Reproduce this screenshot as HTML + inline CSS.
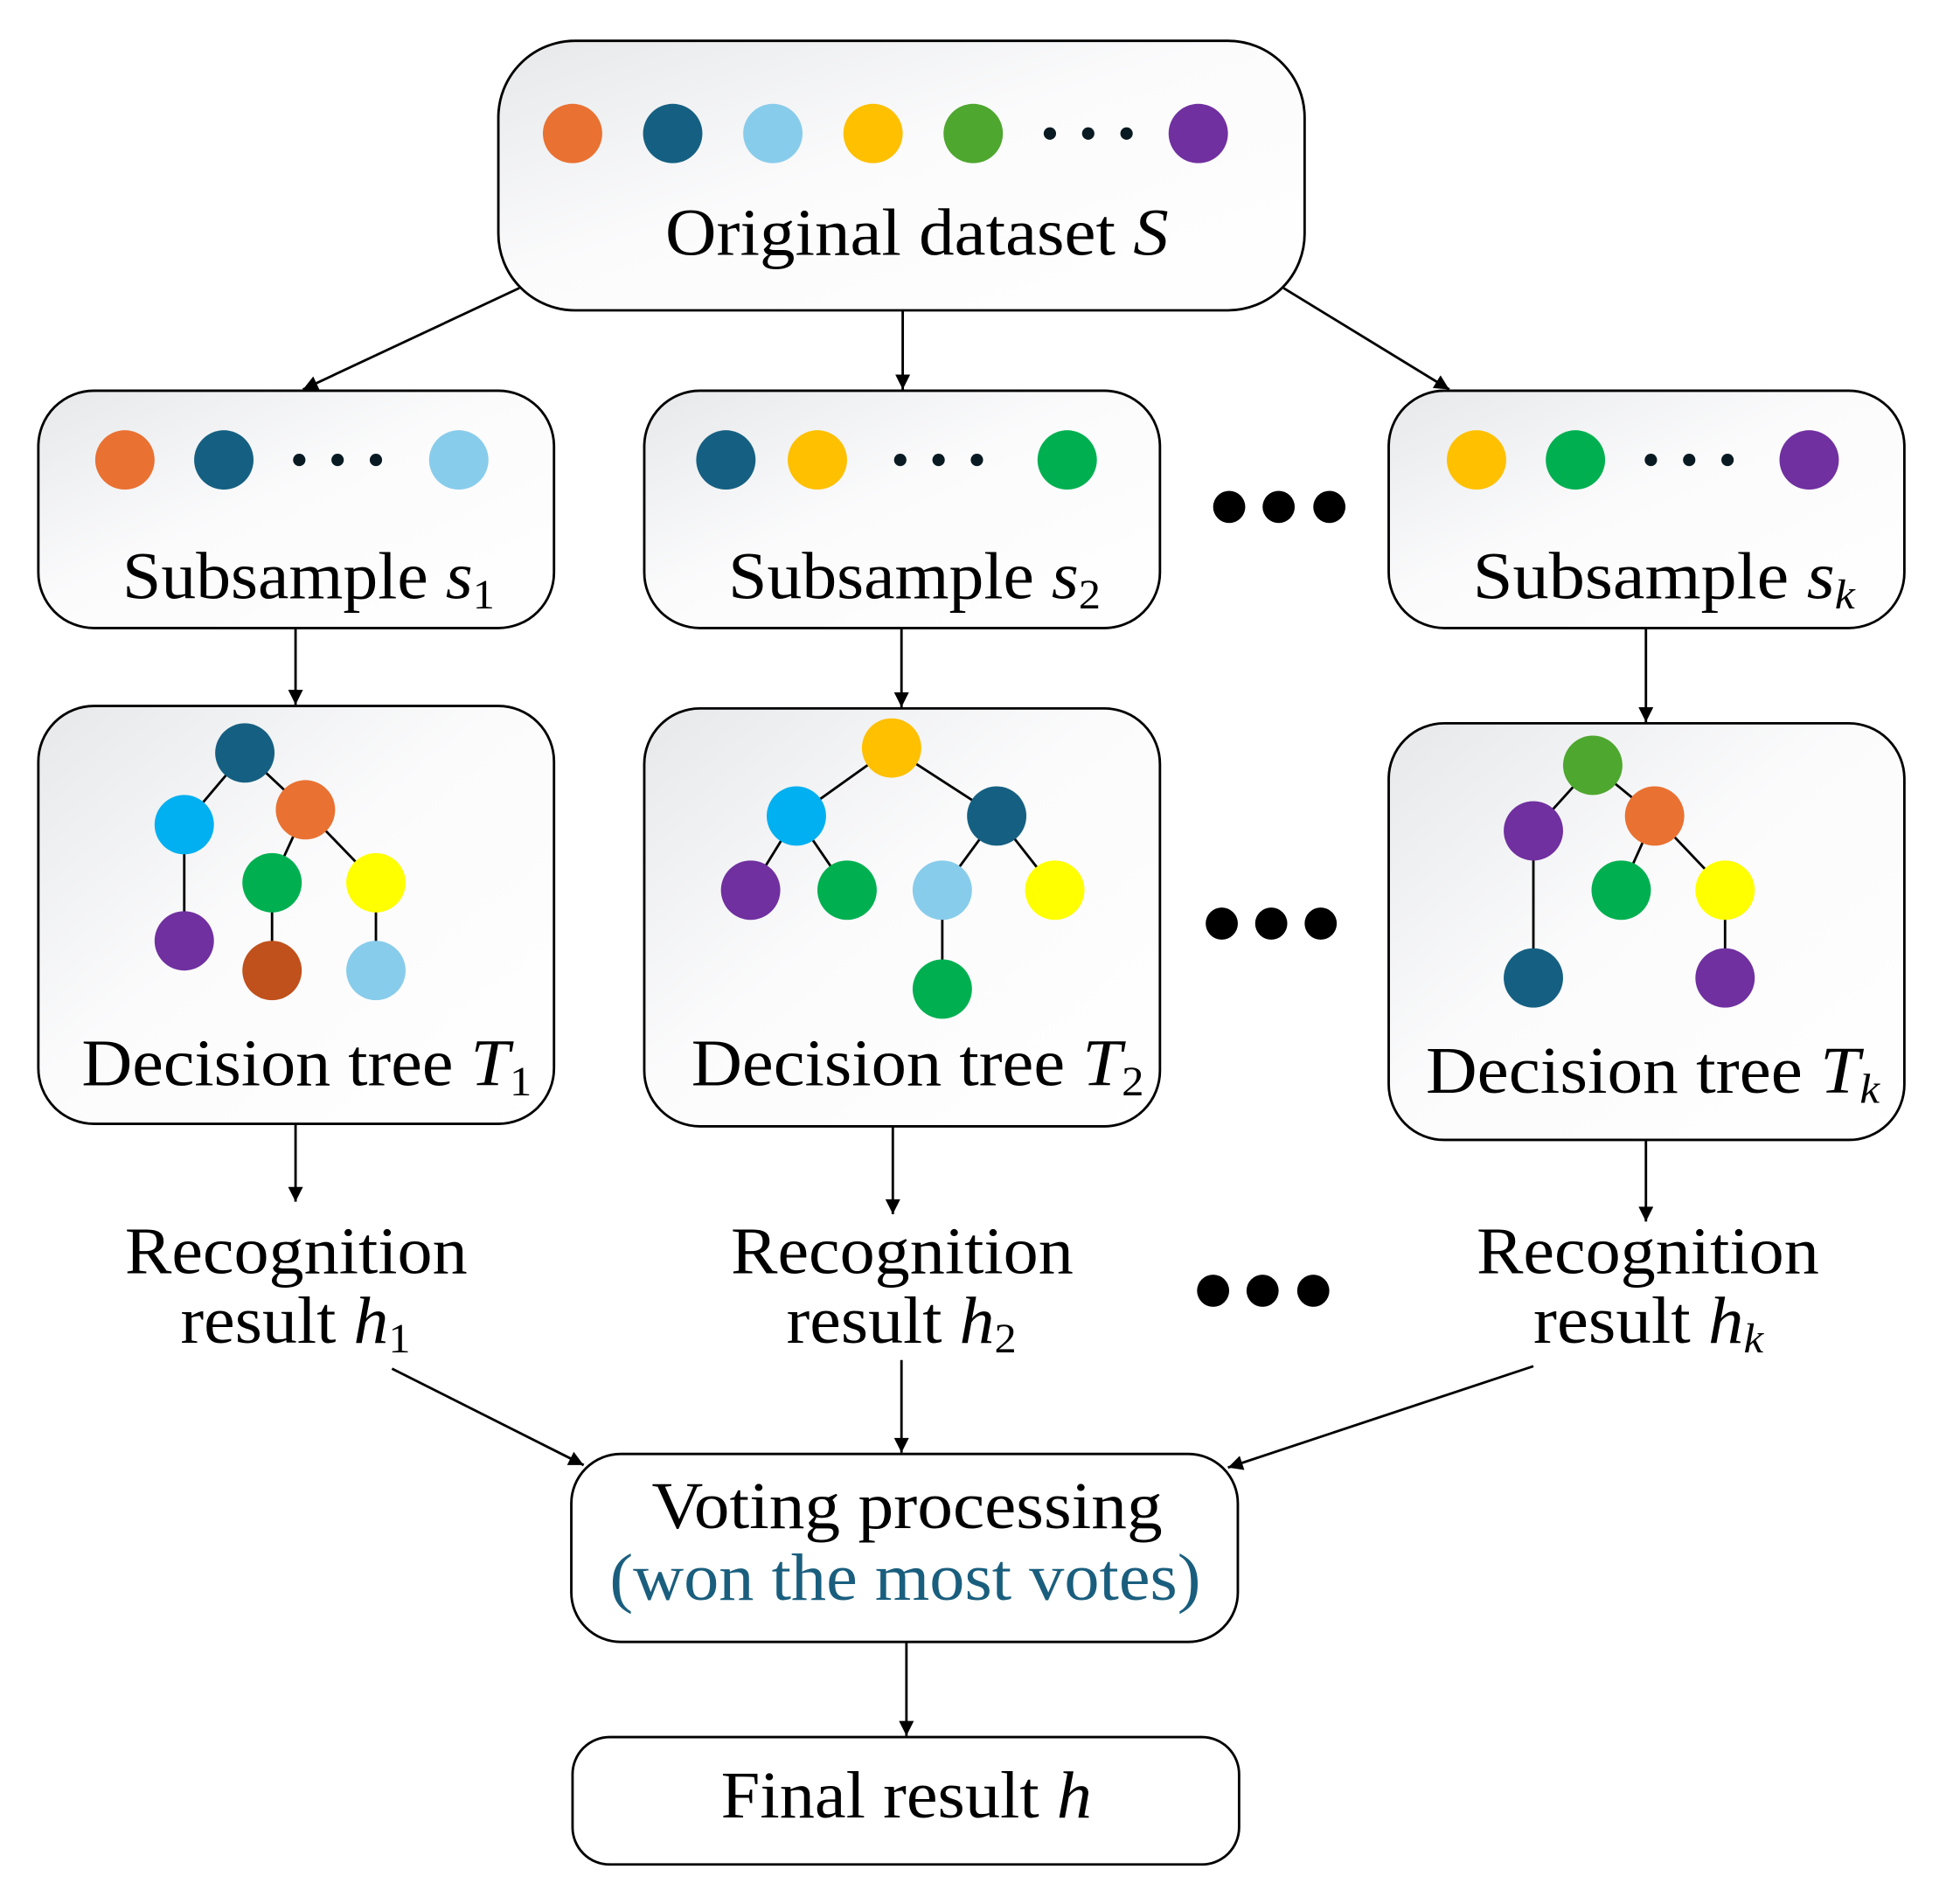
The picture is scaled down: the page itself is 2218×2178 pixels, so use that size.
<!DOCTYPE html>
<html><head><meta charset="utf-8"><style>html,body{margin:0;padding:0;background:#fff}svg{display:block}</style></head><body>
<svg width="2218" height="2178" viewBox="0 0 1568 1540" preserveAspectRatio="none" xmlns="http://www.w3.org/2000/svg" font-family="'Liberation Serif', serif">
<defs>
<linearGradient id="g" x1="0" y1="0" x2="1" y2="1"><stop offset="0" stop-color="#e6e8ea"/><stop offset="0.45" stop-color="#fbfbfc"/><stop offset="1" stop-color="#ffffff"/></linearGradient>
<marker id="a" viewBox="0 0 10 10" refX="10" refY="5" markerWidth="14" markerHeight="12" orient="auto" markerUnits="userSpaceOnUse"><path d="M0,0 L10,5 L0,10 z" fill="#000"/></marker>
</defs>
<g stroke="#000" stroke-width="2">
<rect x="403" y="33" width="652" height="218" rx="62" fill="url(#g)"/>
<rect x="31" y="316" width="417" height="192" rx="45" fill="url(#g)"/>
<rect x="521" y="316" width="417" height="192" rx="45" fill="url(#g)"/>
<rect x="1123" y="316" width="417" height="192" rx="45" fill="url(#g)"/>
<rect x="31" y="571" width="417" height="338" rx="45" fill="url(#g)"/>
<rect x="521" y="573" width="417" height="338" rx="45" fill="url(#g)"/>
<rect x="1123" y="585" width="417" height="337" rx="45" fill="url(#g)"/>
<rect x="462" y="1176" width="539" height="152" rx="40" fill="#fff"/>
<rect x="463" y="1405" width="539" height="103" rx="30" fill="#fff"/>
</g>
<g stroke="#000" stroke-width="2" marker-end="url(#a)">
<line x1="420" y1="233" x2="245" y2="315"/>
<line x1="730" y1="251" x2="730" y2="315"/>
<line x1="1038" y1="233" x2="1172" y2="315"/>
<line x1="239" y1="508" x2="239" y2="570"/>
<line x1="729" y1="508" x2="729" y2="572"/>
<line x1="1331" y1="508" x2="1331" y2="584"/>
<line x1="239" y1="909" x2="239" y2="972"/>
<line x1="722" y1="911" x2="722" y2="982"/>
<line x1="1331" y1="922" x2="1331" y2="988"/>
<line x1="317" y1="1107" x2="472" y2="1185"/>
<line x1="729" y1="1100" x2="729" y2="1175"/>
<line x1="1240" y1="1105" x2="993" y2="1187"/>
<line x1="733" y1="1328" x2="733" y2="1404"/>
</g>
<g>
<circle cx="463" cy="108" r="24" fill="#E97132"/><circle cx="544" cy="108" r="24" fill="#156082"/><circle cx="625" cy="108" r="24" fill="#88CCEB"/><circle cx="706" cy="108" r="24" fill="#FFC000"/><circle cx="787" cy="108" r="24" fill="#4EA72E"/>
<circle cx="849" cy="108" r="5" fill="#0a1a22"/><circle cx="880" cy="108" r="5" fill="#0a1a22"/><circle cx="911" cy="108" r="5" fill="#0a1a22"/>
<circle cx="969" cy="108" r="24" fill="#7030A0"/>
<circle cx="101" cy="372" r="24" fill="#E97132"/><circle cx="181" cy="372" r="24" fill="#156082"/><circle cx="242" cy="372" r="5" fill="#0a1a22"/><circle cx="273" cy="372" r="5" fill="#0a1a22"/><circle cx="304" cy="372" r="5" fill="#0a1a22"/><circle cx="371" cy="372" r="24" fill="#88CCEB"/>
<circle cx="587" cy="372" r="24" fill="#156082"/><circle cx="661" cy="372" r="24" fill="#FFC000"/><circle cx="728" cy="372" r="5" fill="#0a1a22"/><circle cx="759" cy="372" r="5" fill="#0a1a22"/><circle cx="790" cy="372" r="5" fill="#0a1a22"/><circle cx="863" cy="372" r="24" fill="#00B050"/>
<circle cx="1194" cy="372" r="24" fill="#FFC000"/><circle cx="1274" cy="372" r="24" fill="#00B050"/><circle cx="1335" cy="372" r="5" fill="#0a1a22"/><circle cx="1366" cy="372" r="5" fill="#0a1a22"/><circle cx="1397" cy="372" r="5" fill="#0a1a22"/><circle cx="1463" cy="372" r="24" fill="#7030A0"/>
<circle cx="994" cy="410" r="13"/><circle cx="1034" cy="410" r="13"/><circle cx="1075" cy="410" r="13"/>
<circle cx="988" cy="747" r="13"/><circle cx="1028" cy="747" r="13"/><circle cx="1068" cy="747" r="13"/>
<circle cx="981" cy="1044" r="13"/><circle cx="1021" cy="1044" r="13"/><circle cx="1062" cy="1044" r="13"/>
</g>
<g stroke="#000" stroke-width="2">
<line x1="198" y1="609" x2="149" y2="667"/><line x1="198" y1="609" x2="247" y2="655"/><line x1="149" y1="667" x2="149" y2="761"/><line x1="247" y1="655" x2="220" y2="714"/><line x1="247" y1="655" x2="304" y2="714"/><line x1="220" y1="714" x2="220" y2="785"/><line x1="304" y1="714" x2="304" y2="785"/>
<line x1="721" y1="605" x2="644" y2="660"/><line x1="721" y1="605" x2="806" y2="660"/><line x1="644" y1="660" x2="607" y2="720"/><line x1="644" y1="660" x2="685" y2="720"/><line x1="806" y1="660" x2="762" y2="720"/><line x1="806" y1="660" x2="853" y2="720"/><line x1="762" y1="720" x2="762" y2="800"/>
<line x1="1288" y1="619" x2="1240" y2="672"/><line x1="1288" y1="619" x2="1338" y2="660"/><line x1="1240" y1="672" x2="1240" y2="791"/><line x1="1338" y1="660" x2="1311" y2="720"/><line x1="1338" y1="660" x2="1395" y2="720"/><line x1="1395" y1="720" x2="1395" y2="791"/>
</g>
<g>
<circle cx="198" cy="609" r="24" fill="#156082"/><circle cx="149" cy="667" r="24" fill="#00B0F0"/><circle cx="247" cy="655" r="24" fill="#E97132"/><circle cx="220" cy="714" r="24" fill="#00B050"/><circle cx="304" cy="714" r="24" fill="#FFFF00"/><circle cx="149" cy="761" r="24" fill="#7030A0"/><circle cx="220" cy="785" r="24" fill="#C0501C"/><circle cx="304" cy="785" r="24" fill="#88CCEB"/>
<circle cx="721" cy="605" r="24" fill="#FFC000"/><circle cx="644" cy="660" r="24" fill="#00B0F0"/><circle cx="806" cy="660" r="24" fill="#156082"/><circle cx="607" cy="720" r="24" fill="#7030A0"/><circle cx="685" cy="720" r="24" fill="#00B050"/><circle cx="762" cy="720" r="24" fill="#88CCEB"/><circle cx="853" cy="720" r="24" fill="#FFFF00"/><circle cx="762" cy="800" r="24" fill="#00B050"/>
<circle cx="1288" cy="619" r="24" fill="#4EA72E"/><circle cx="1240" cy="672" r="24" fill="#7030A0"/><circle cx="1338" cy="660" r="24" fill="#E97132"/><circle cx="1311" cy="720" r="24" fill="#00B050"/><circle cx="1395" cy="720" r="24" fill="#FFFF00"/><circle cx="1240" cy="791" r="24" fill="#156082"/><circle cx="1395" cy="791" r="24" fill="#7030A0"/>
</g>
<g font-size="54" fill="#000">
<text x="538" y="206" textLength="407" lengthAdjust="spacingAndGlyphs">Original dataset <tspan font-style="italic">S</tspan></text>
<text x="99" y="484" textLength="301" lengthAdjust="spacingAndGlyphs">Subsample <tspan font-style="italic">s</tspan><tspan font-size="34" dy="8">1</tspan></text>
<text x="589" y="484" textLength="301" lengthAdjust="spacingAndGlyphs">Subsample <tspan font-style="italic">s</tspan><tspan font-size="34" dy="8">2</tspan></text>
<text x="1191" y="484" textLength="309" lengthAdjust="spacingAndGlyphs">Subsample <tspan font-style="italic">s</tspan><tspan font-size="34" dy="8" font-style="italic">k</tspan></text>
<text x="66" y="878" textLength="364" lengthAdjust="spacingAndGlyphs">Decision tree <tspan font-style="italic">T</tspan><tspan font-size="34" dy="8">1</tspan></text>
<text x="559" y="878" textLength="366" lengthAdjust="spacingAndGlyphs">Decision tree <tspan font-style="italic">T</tspan><tspan font-size="34" dy="8">2</tspan></text>
<text x="1153" y="884" textLength="367" lengthAdjust="spacingAndGlyphs">Decision tree <tspan font-style="italic">T</tspan><tspan font-size="34" dy="8" font-style="italic">k</tspan></text>
<text x="101" y="1030" textLength="277" lengthAdjust="spacingAndGlyphs">Recognition</text>
<text x="146" y="1086" textLength="186" lengthAdjust="spacingAndGlyphs">result <tspan font-style="italic">h</tspan><tspan font-size="34" dy="8">1</tspan></text>
<text x="591" y="1030" textLength="277" lengthAdjust="spacingAndGlyphs">Recognition</text>
<text x="636" y="1086" textLength="186" lengthAdjust="spacingAndGlyphs">result <tspan font-style="italic">h</tspan><tspan font-size="34" dy="8">2</tspan></text>
<text x="1194" y="1030" textLength="277" lengthAdjust="spacingAndGlyphs">Recognition</text>
<text x="1240" y="1086" textLength="186" lengthAdjust="spacingAndGlyphs">result <tspan font-style="italic">h</tspan><tspan font-size="34" dy="8" font-style="italic">k</tspan></text>
<text x="527" y="1236" textLength="413" lengthAdjust="spacingAndGlyphs">Voting processing</text>
<text x="493" y="1294" textLength="478" lengthAdjust="spacingAndGlyphs" fill="#1A5E7E">(won the most votes)</text>
<text x="583" y="1470" textLength="300" lengthAdjust="spacingAndGlyphs">Final result <tspan font-style="italic">h</tspan></text>
</g>
</svg>
</body></html>
